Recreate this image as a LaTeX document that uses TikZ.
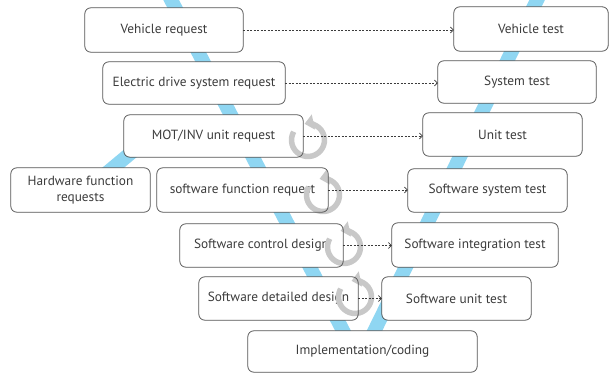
\documentclass[tikz,border=0pt]{standalone}
\usepackage{fontspec}
\setmainfont{PT Sans}
\usetikzlibrary{arrows.meta}
\definecolor{vband}{RGB}{143,214,242}
\definecolor{loopgray}{RGB}{200,200,200}
\definecolor{edgegray}{RGB}{85,85,85}
\definecolor{ink}{RGB}{60,60,60}

\begin{document}
\begin{tikzpicture}[x=1pt,y=1pt,
  box/.style={rectangle, fill=white, rounded corners=6pt, inner sep=0pt,
    text=ink, align=center, font=\fontsize{13.3}{16}\selectfont},
  boxedge/.style={draw=edgegray, line width=0.8pt, rounded corners=6pt},
  band/.style={vband, line width=14pt},
  loop/.style={loopgray, line width=5.5pt, -{Triangle[length=9pt,width=15pt]}},
  link/.style={ink, line width=0.7pt, dash pattern=on 2pt off 1.5pt,
    -{Straight Barb[length=3pt,width=6pt]}}
]
\useasboundingbox (0,0) rectangle (614,-374);

% the V bands and the hardware branch
\draw[band] (167,8) -- (352,-348);
\draw[band] (541,8) -- (366,-348);
\draw[band] (150,-137) -- (102,-177);

% left side boxes
\node[box, minimum width=158pt, minimum height=44pt] (vreq) at (164,-30) {Vehicle request};
\node[box, minimum width=182pt, minimum height=42pt] (ereq) at (194,-83) {Electric drive system request};
\node[box, minimum width=179pt, minimum height=42pt] (mreq) at (213.5,-136) {MOT/INV unit request};
\node[box, minimum width=139pt, minimum height=44pt] (hreq) at (80.5,-190) {Hardware function\\requests};
\node[box, minimum width=171pt, minimum height=44pt] (sreq) at (242.5,-190) {software function request};
\node[box, minimum width=163pt, minimum height=43pt] (sctl) at (261.5,-245.5) {Software control design};
\node[box, minimum width=159pt, minimum height=43pt] (sdet) at (278.5,-298.5) {Software detailed design};
\node[box, minimum width=229pt, minimum height=41pt] (impl) at (362.5,-351.5) {Implementation/coding};

% right side boxes
\node[box, minimum width=154pt, minimum height=44pt] (vtest) at (531,-29) {Vehicle test};
\node[box, minimum width=158pt, minimum height=42pt] (stest) at (517,-82) {System test};
\node[box, minimum width=159pt, minimum height=43pt] (utest) at (502.5,-134.5) {Unit test};
\node[box, minimum width=159pt, minimum height=43pt] (sstest) at (487.5,-190.5) {Software system test};
\node[box, minimum width=166pt, minimum height=44pt] (sitest) at (475,-245) {Software integration test};
\node[box, minimum width=149pt, minimum height=43pt] (sutest) at (456.5,-298.5) {Software unit test};

% iteration loops
\foreach \cx/\cy in {308/-140, 323/-195, 344/-247, 355/-297}{
  \draw[loop] (\cx,\cy) ++(150:16.5) arc[start angle=150, end angle=462, radius=16.5];
}

% box outlines
\foreach \n in {vreq,ereq,mreq,hreq,sreq,sctl,sdet,impl,vtest,stest,utest,sstest,sitest,sutest}{
  \draw[boxedge] (\n.south west) rectangle (\n.north east);
}

% verification links
\draw[link] (vreq.east) -- (vreq.east -| vtest.west);
\draw[link] (ereq.east) -- (ereq.east -| stest.west);
\draw[link] (mreq.east) -- (mreq.east -| utest.west);
\draw[link] (sreq.east) -- (sreq.east -| sstest.west);
\draw[link] (sctl.east) -- (sctl.east -| sitest.west);
\draw[link] (sdet.east) -- (sdet.east -| sutest.west);
\end{tikzpicture}
\end{document}
